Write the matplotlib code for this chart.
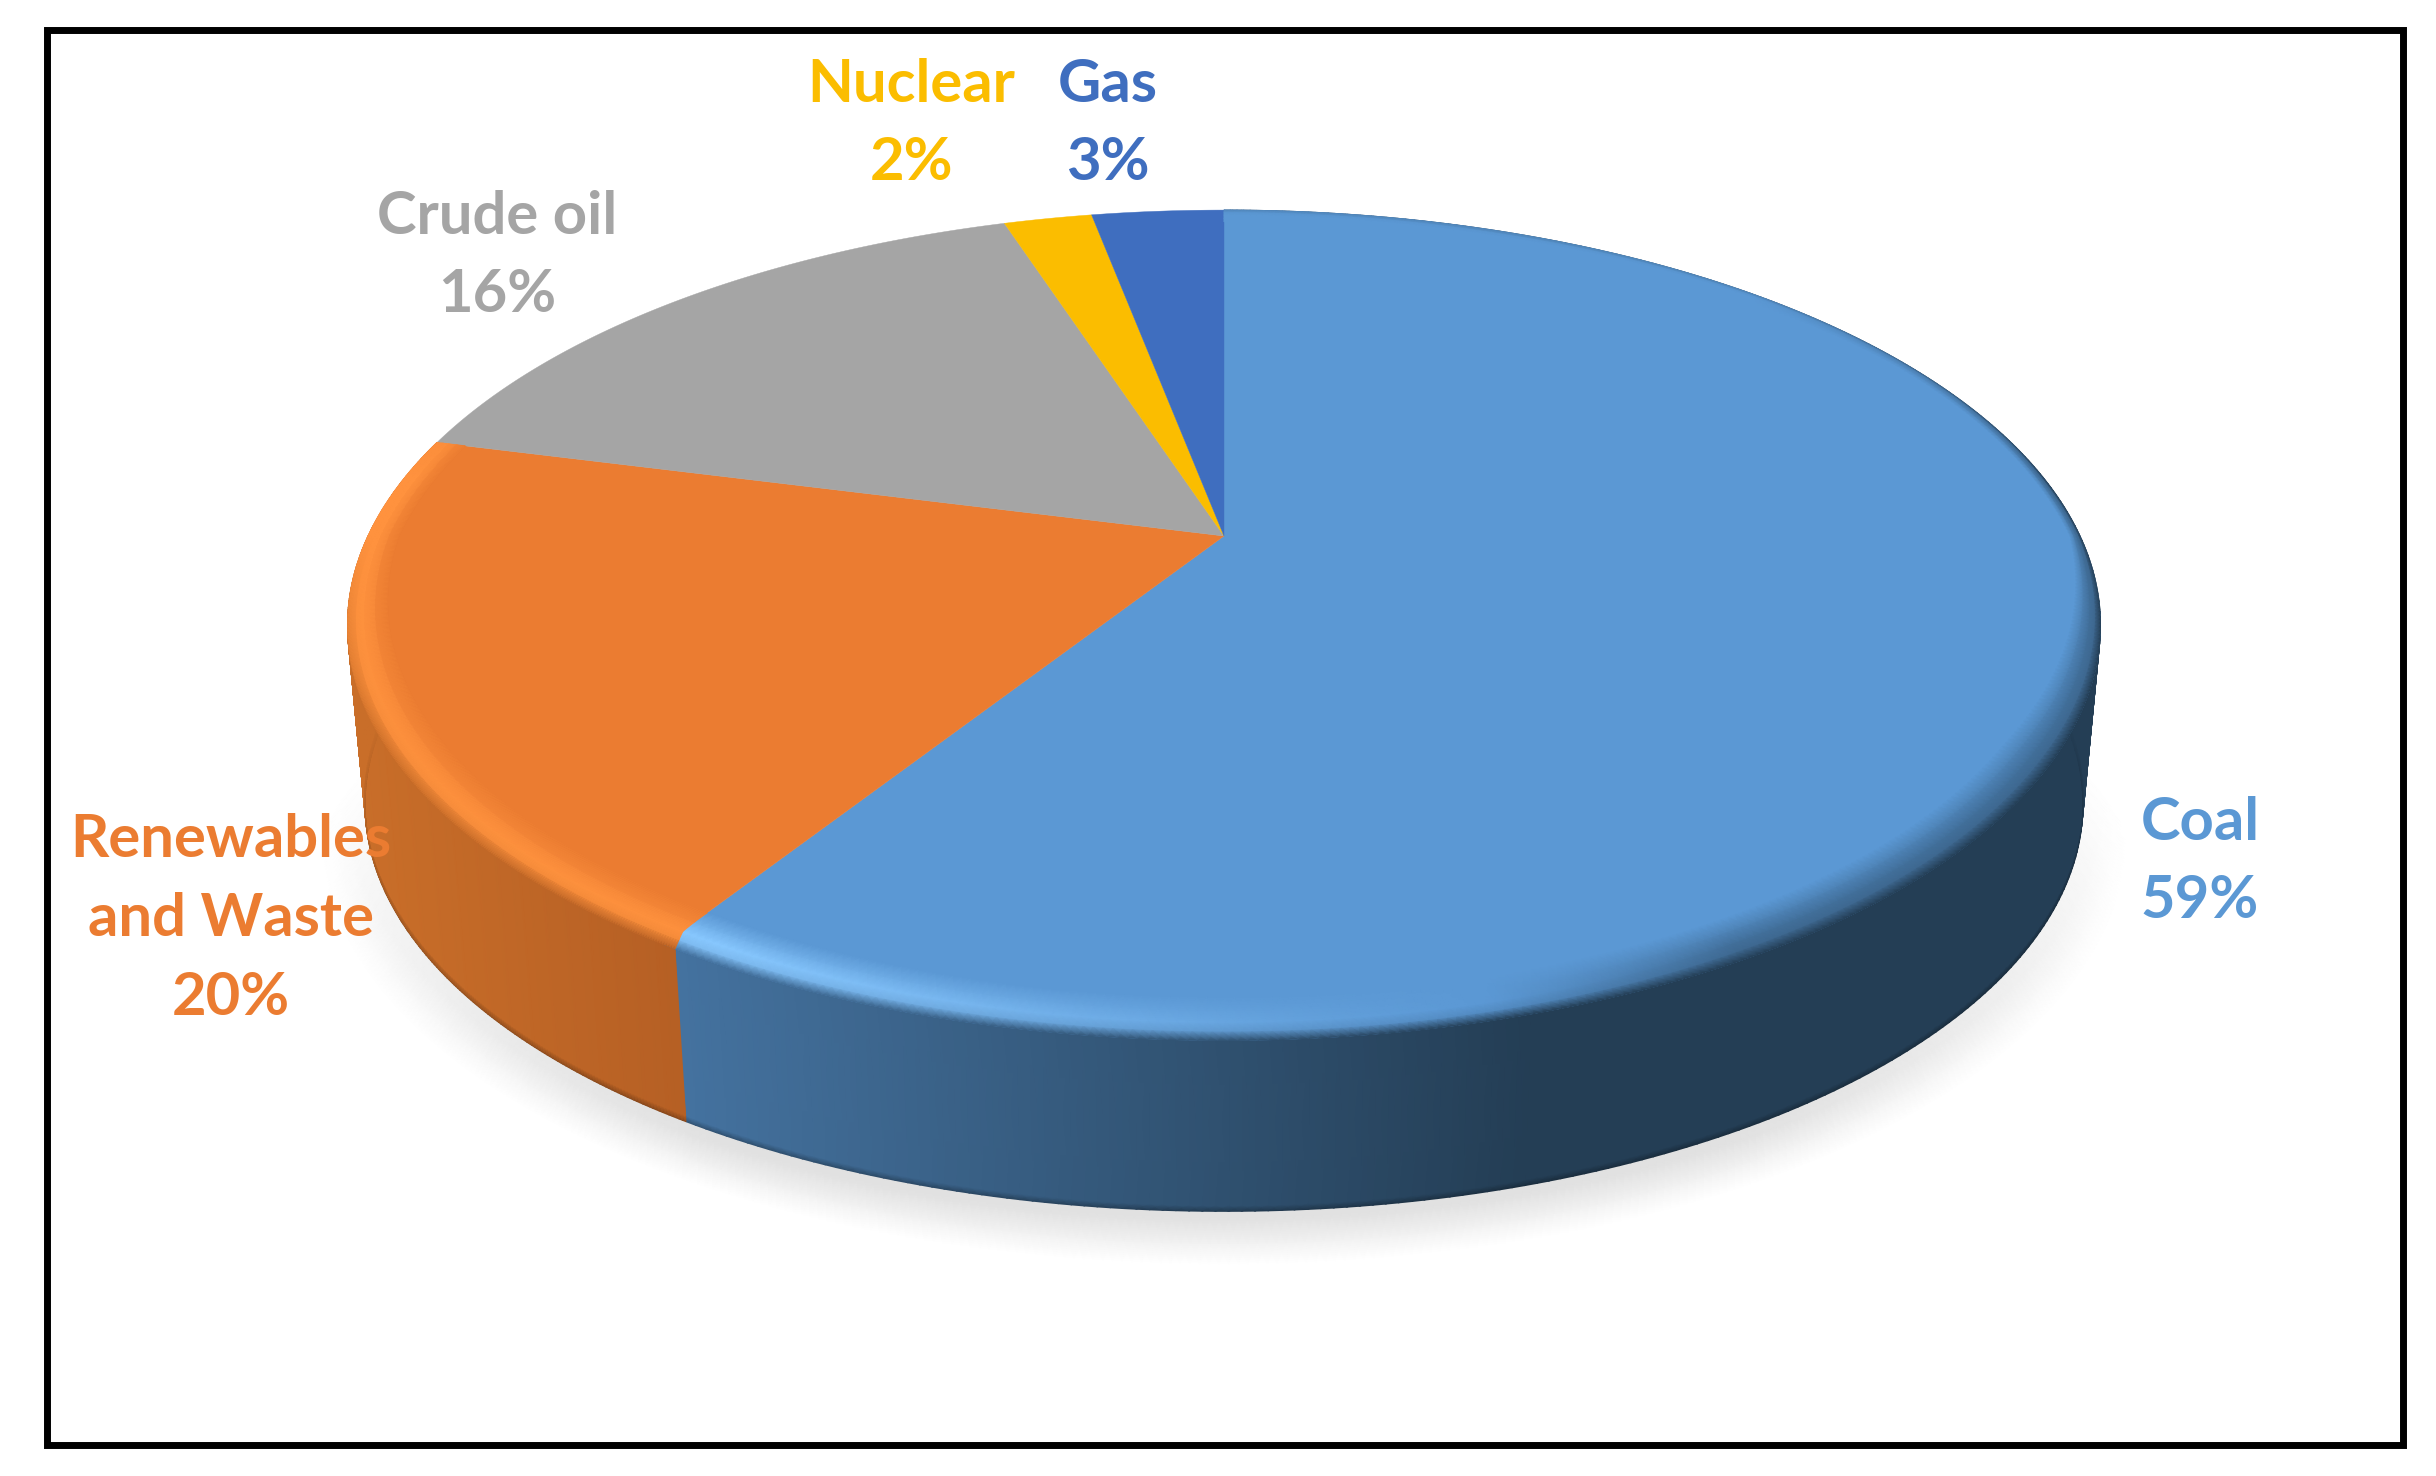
import numpy as np
import matplotlib
matplotlib.use("Agg")
import matplotlib.pyplot as plt
from matplotlib.colors import to_rgb
from matplotlib.patches import Polygon, Rectangle

# ---- data (clockwise from 12 o'clock) ----
names = ["Coal", "Renewables\nand Waste", "Crude oil", "Nuclear", "Gas"]
shares = [59, 20, 16, 2, 3]
face_colors = ["#5B98D4", "#EB7C31", "#A5A5A5", "#FBBD00", "#3F6EBF"]
label_xy = [(2200, 862), (231, 919), (497, 256), (911, 124), (1108, 124)]

# ---- pie geometry (in pixels of the 2436x1476 canvas) ----
CX, APEX_Y = 1224, 536
RX, RY, PERSP = 856, 396, 0.215
BOTTOM_SCALE, BOTTOM_DY = 0.98, 181
SEAM = 0.014   # side-wall seam sits slightly clockwise-back of the wedge line


def rim(theta, scale=1.0, dy=0.0):
    x, y = np.sin(theta), np.cos(theta)
    w = 1 + PERSP * y
    return CX + scale * RX * x / w, APEX_Y + dy - scale * RY * y / w


def lerp(a, b, t):
    a, b = np.asarray(a, float), np.asarray(b, float)
    t = np.asarray(t, float)[..., None]
    return a * (1 - t) + b * t


fig = plt.figure(figsize=(24.36, 14.76), dpi=100, facecolor="white")
ax = fig.add_axes([0, 0, 1, 1])
ax.axis("off")

# angle limits of every slice
edges = np.deg2rad(np.cumsum([0] + shares) * 3.6)

# soft shadow below the disc
th = np.linspace(np.pi * 0.45, np.pi * 1.55, 400)
ts = np.array([0, 0.35, 0.7, 1.0])
X = np.empty((ts.size, th.size))
Y = X.copy()
for i, t in enumerate(ts):
    X[i], Y[i] = rim(th, BOTTOM_SCALE * (1 + 0.05 * t), BOTTOM_DY - 14 + 42 * t)
fade = np.clip((np.pi * 0.45 - np.abs(th - np.pi)) / 0.9, 0, 1)[None, :]
level = np.array([0.875, 0.885, 0.95, 1.0])[:, None]
grey = 1 - (1 - level) * fade
ax.pcolormesh(X, Y, np.dstack([grey] * 3), shading="gouraud", zorder=1)

# side-wall colours, depending on horizontal position
side_ramps = {
    0: ("#44729F", "#243E55", 680, 1530),
    1: ("#C96E29", "#B55F24", 350, 690),
}
high_lights = {0: "#88C8FF", 1: "#FF923E"}

for idx, (start, stop) in enumerate(zip(edges[:-1], edges[1:])):
    if idx not in side_ramps:
        continue
    c0, c1, x0, x1 = side_ramps[idx]
    # seam between the two visible walls is moved back towards coal
    lo = start - SEAM if idx == 1 else start
    hi = stop - SEAM if idx == 0 else stop
    th = np.linspace(lo, hi, 300)
    xt, yt = rim(th)
    xb, yb = rim(th, BOTTOM_SCALE, BOTTOM_DY)
    ss = np.array([0, 0.97, 1.0])
    X = np.array([xt + (xb - xt) * s for s in ss])
    Y = np.array([yt + (yb - yt) * s for s in ss])
    col = lerp(to_rgb(c0), to_rgb(c1), np.clip((xt - x0) / (x1 - x0), 0, 1))
    dark = 1 - 0.28 * np.clip(-np.cos(th) / 0.4, 0, 1)[:, None]
    C = np.stack([col, col, col * dark])
    ax.pcolormesh(X, Y, C, shading="gouraud", zorder=2)

# flat top face
for idx, (start, stop) in enumerate(zip(edges[:-1], edges[1:])):
    th = np.linspace(start, stop, 300)
    xt, yt = rim(th)
    pts = np.column_stack([np.r_[CX, xt], np.r_[APEX_Y, yt]])
    ax.add_patch(Polygon(pts, closed=True, facecolor=face_colors[idx],
                         edgecolor=face_colors[idx], lw=0.3, zorder=3))

# bevelled rim: highlight on the lit side, shading on the dark side
tt = np.array([0.0, 0.22, 0.42, 0.7, 1.0])
for idx, (start, stop) in enumerate(zip(edges[:-1], edges[1:])):
    if idx not in side_ramps:
        continue
    c0, c1, x0, x1 = side_ramps[idx]
    face = np.array(to_rgb(face_colors[idx]))
    high = np.array(to_rgb(high_lights[idx]))
    n = 400
    X = np.empty((tt.size, n))
    Y = X.copy()
    C = np.empty((tt.size, n, 3))
    for i, t in enumerate(tt):
        seam = SEAM * np.clip(1 - t / 0.45, 0, 1)
        lo = start - seam if idx == 1 else start
        hi = stop - seam if idx == 0 else stop
        th = np.linspace(lo, hi, n)
        xt, yt = rim(th)
        y_dir = np.cos(th)
        front = np.clip(-y_dir, 0, 1)
        back = np.clip((y_dir - 0.15) / 0.55, 0, 1)
        side_col = lerp(to_rgb(c0), to_rgb(c1), np.clip((xt - x0) / (x1 - x0), 0, 1))
        outer = lerp(side_col, face, back * (xt < CX) + 0.75 * back * (xt >= CX))
        hl_amount = np.clip((1500 - xt) / 800, 0, 1) ** 1.2 * (1 - back)
        dark_amount = np.clip((xt - 1500) / 250, 0, 1) * 0.45 * (1 - back)
        mid = lerp(lerp(face, high, hl_amount), side_col, dark_amount)
        # on the lit flank the highlight reaches right up to the outline
        flank = (1 - np.clip(front / 0.45, 0, 1)) * (xt < CX)
        outer = lerp(outer, mid, flank)
        # the band shrinks towards the apex so it stays on the wedge lines;
        # it is thinner on the right flank
        thin = np.clip((xt - 1500) / 400, 0, 1) * (1 - np.clip(front / 0.5, 0, 1))
        g = (0.036 - 0.024 * thin + 0.05 * front) * t
        X[i] = CX + (xt - CX) * (1 - g)
        Y[i] = APEX_Y + (yt - APEX_Y) * (1 - g)
        if t <= 0.22:
            C[i] = lerp(outer, mid, np.full(n, t / 0.22 * 0.85))
        elif t <= 0.42:
            C[i] = lerp(outer, mid, np.full(n, 0.85 + 0.15 * (t - 0.22) / 0.2))
        else:
            C[i] = lerp(mid, face, np.full(n, (t - 0.42) / 0.58))
    ax.pcolormesh(X, Y, C, shading="gouraud", zorder=4)

# labels
for name, share, col, (lx, ly) in zip(names, shares, face_colors, label_xy):
    ax.text(lx, ly, f"{name}\n{share}%", color=col, ha="center", va="center",
            family="Lato", fontweight="bold", fontsize=43, linespacing=1.565,
            zorder=6)

# frame
ax.add_patch(Rectangle((46.5, 29.5), 2356.5, 1415.5, fill=False,
                       edgecolor="black", lw=5, zorder=7))

ax.set_xlim(0, 2436)
ax.set_ylim(1476, 0)
fig.savefig("out.png", dpi=100, facecolor="white")
